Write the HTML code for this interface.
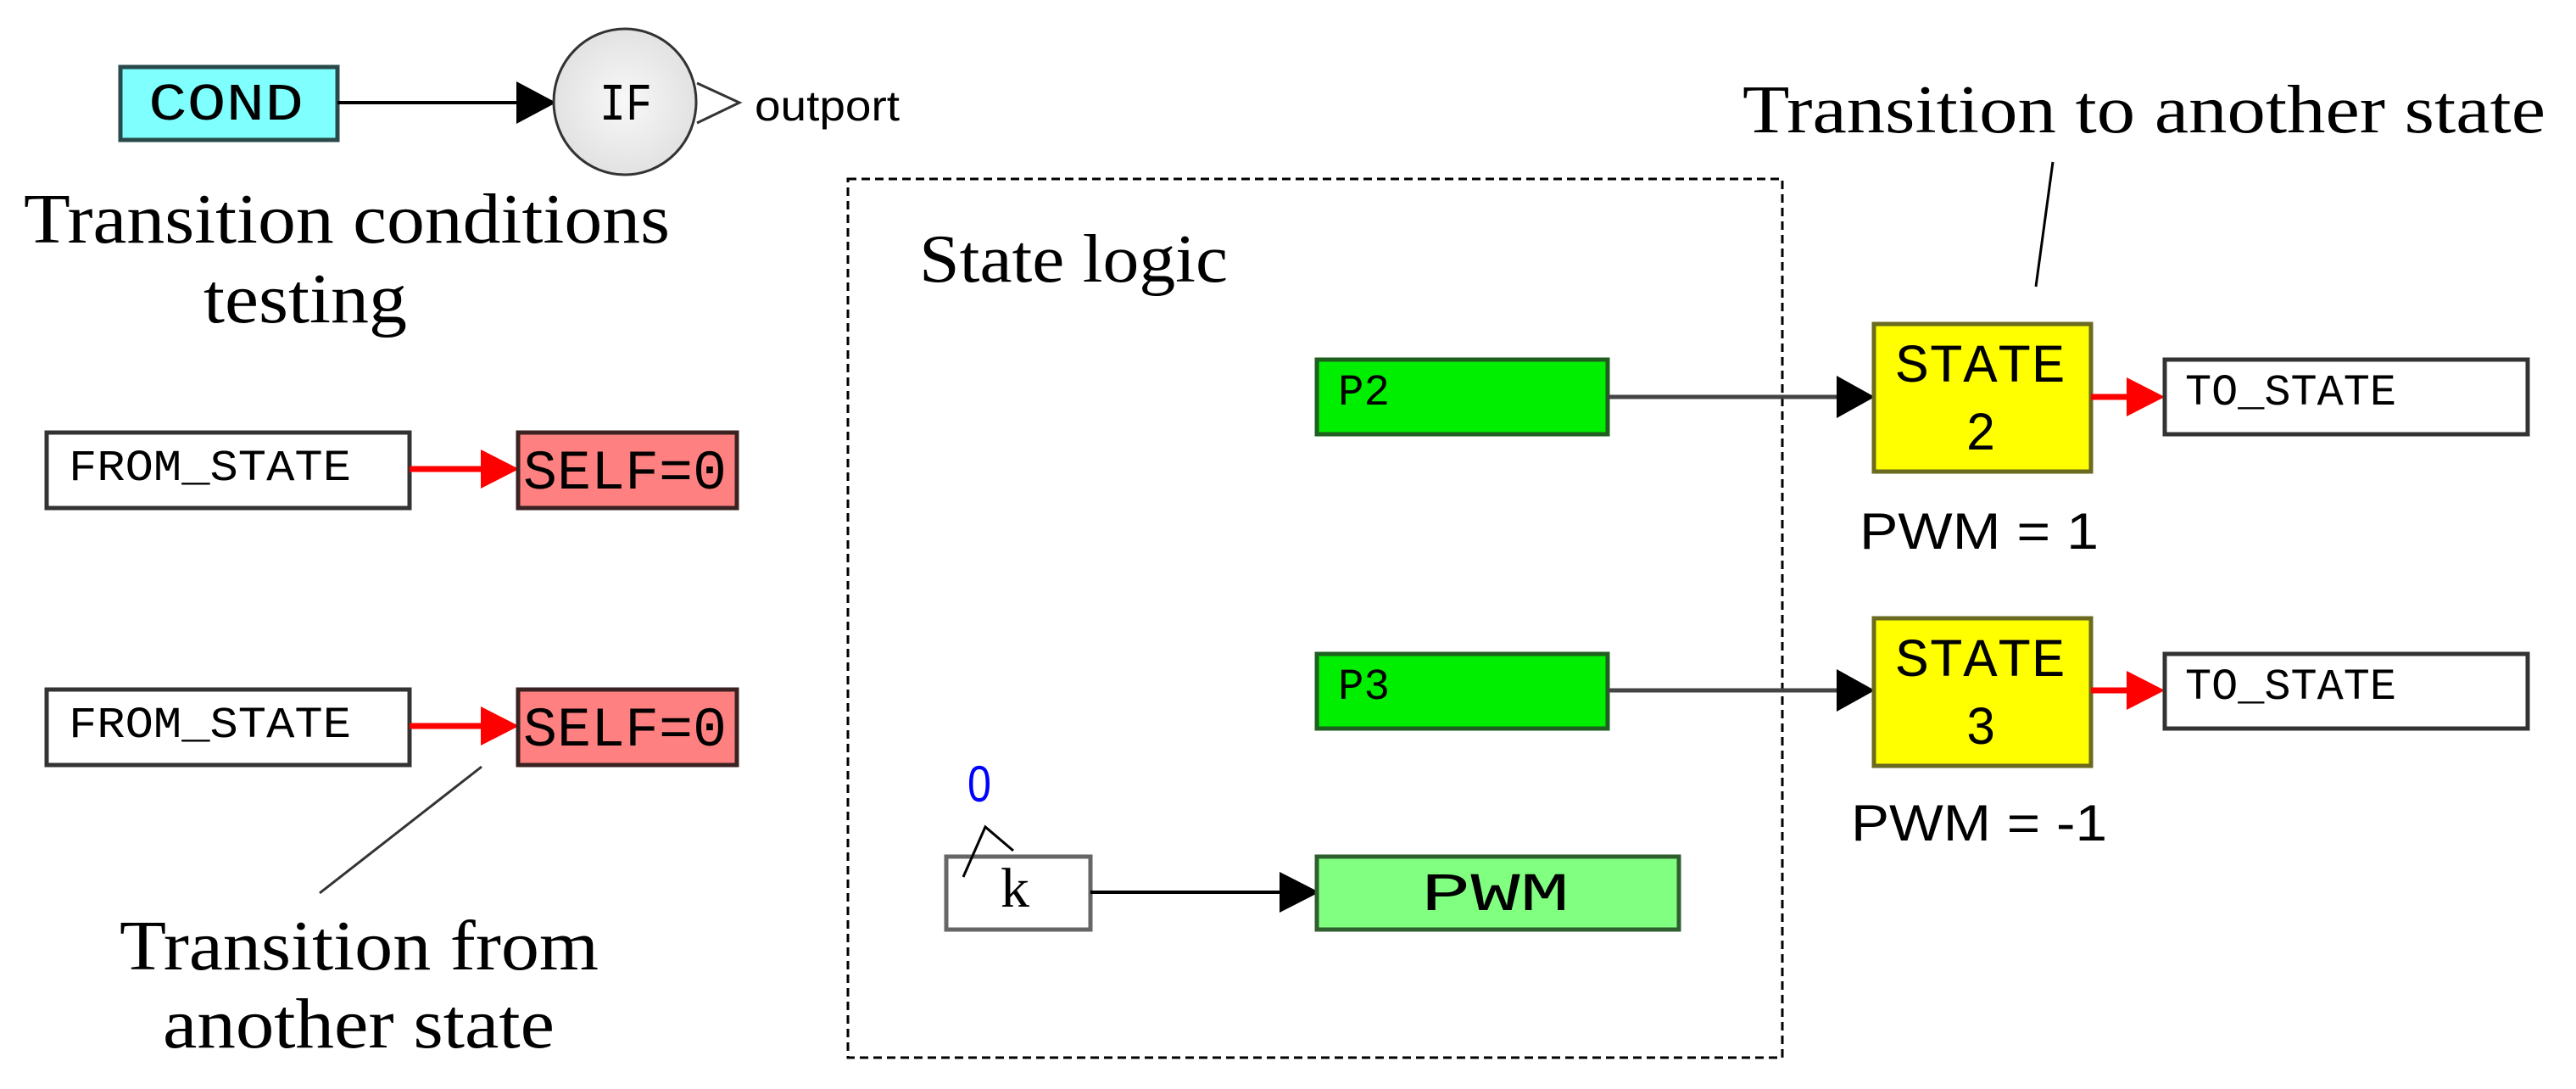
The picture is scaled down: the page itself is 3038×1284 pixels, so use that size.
<!DOCTYPE html>
<html><head><meta charset="utf-8"><style>
html,body{margin:0;padding:0;background:#fff;}
svg{display:block;}
.s{font-family:"Liberation Serif",serif;fill:#000;}
.m{font-family:"Liberation Mono",monospace;fill:#000;}
</style></head><body>
<svg width="3038" height="1284" viewBox="0 0 3038 1284" xmlns="http://www.w3.org/2000/svg">
<defs>
<radialGradient id="g" cx="50%" cy="50%" r="50%"><stop offset="0" stop-color="#f8f8f8"/><stop offset="1" stop-color="#e2e2e2"/></radialGradient>
</defs>
<!-- COND -> IF -->
<rect x="142" y="79" width="256" height="86" fill="#80ffff" stroke="#2a4a4a" stroke-width="5"/>
<text class="m" x="175" y="141" font-size="62" textLength="183" lengthAdjust="spacingAndGlyphs">COND</text>
<line x1="398" y1="121" x2="615" y2="121" stroke="#000" stroke-width="4"/>
<polygon points="609,96 656,121 609,146" fill="#000"/>
<ellipse cx="737" cy="120" rx="84" ry="86" fill="url(#g)" stroke="#333" stroke-width="3"/>
<text class="m" x="707" y="141" font-size="62" textLength="62" lengthAdjust="spacingAndGlyphs">IF</text>
<polyline points="822,98 872,121 822,145" fill="none" stroke="#333" stroke-width="3"/>
<text x="890" y="142" font-family="Liberation Sans,sans-serif" font-size="50" textLength="171" lengthAdjust="spacingAndGlyphs">outport</text>
<text class="s" x="28" y="286" font-size="84" textLength="762" lengthAdjust="spacingAndGlyphs">Transition conditions</text>
<text class="s" x="240" y="380" font-size="84" textLength="240" lengthAdjust="spacingAndGlyphs">testing</text>

<!-- FROM_STATE rows -->
<rect x="55" y="510" width="428" height="89" fill="#fff" stroke="#333" stroke-width="5"/>
<text class="m" x="81" y="566" font-size="52" textLength="333" lengthAdjust="spacingAndGlyphs">FROM_STATE</text>
<line x1="483" y1="553" x2="575" y2="553" stroke="#ff0000" stroke-width="7"/>
<polygon points="567,530 612,553 567,576" fill="#ff0000"/>
<rect x="611" y="510" width="258" height="89" fill="#ff8080" stroke="#3a2222" stroke-width="5"/>
<text class="m" x="617" y="576" font-size="66" textLength="240" lengthAdjust="spacingAndGlyphs">SELF=0</text>

<rect x="55" y="813" width="428" height="89" fill="#fff" stroke="#333" stroke-width="5"/>
<text class="m" x="81" y="869" font-size="52" textLength="333" lengthAdjust="spacingAndGlyphs">FROM_STATE</text>
<line x1="483" y1="856" x2="575" y2="856" stroke="#ff0000" stroke-width="7"/>
<polygon points="567,833 612,856 567,879" fill="#ff0000"/>
<rect x="611" y="813" width="258" height="89" fill="#ff8080" stroke="#3a2222" stroke-width="5"/>
<text class="m" x="617" y="879" font-size="66" textLength="240" lengthAdjust="spacingAndGlyphs">SELF=0</text>
<line x1="568" y1="904" x2="377" y2="1053" stroke="#333" stroke-width="3"/>
<text class="s" x="141" y="1143" font-size="84" textLength="565" lengthAdjust="spacingAndGlyphs">Transition from</text>
<text class="s" x="192" y="1235" font-size="84" textLength="462" lengthAdjust="spacingAndGlyphs">another state</text>

<!-- State logic box -->
<rect x="1000" y="211" width=
"1102" height="1036" fill="none" stroke="#000" stroke-width="3" stroke-dasharray="10,6"/>
<text class="s" x="1084" y="332" font-size="80" textLength="364" lengthAdjust="spacingAndGlyphs">State logic</text>

<rect x="1553" y="424" width="343" height="88" fill="#00ee00" stroke="#1f5f1f" stroke-width="5"/>
<text class="m" x="1578" y="477" font-size="52" textLength="61" lengthAdjust="spacingAndGlyphs">P2</text>
<line x1="1896" y1="468" x2="2170" y2="468" stroke="#444" stroke-width="5"/>
<polygon points="2166,443 2211,468 2166,493" fill="#000"/>

<rect x="1553" y="771" width="343" height="88" fill="#00ee00" stroke="#1f5f1f" stroke-width="5"/>
<text class="m" x="1578" y="824" font-size="52" textLength="61" lengthAdjust="spacingAndGlyphs">P3</text>
<line x1="1896" y1="814" x2="2170" y2="814" stroke="#444" stroke-width="5"/>
<polygon points="2166,789 2211,814 2166,839" fill="#000"/>

<!-- k -> PWM -->
<text x="1141" y="945" font-family="Liberation Sans,sans-serif" font-size="60" fill="#0000ff" textLength="28" lengthAdjust="spacingAndGlyphs">0</text>
<rect x="1116" y="1010" width="170" height="86" fill="#fff" stroke="#666" stroke-width="5"/>
<polyline points="1136,1034 1162,975 1195,1003" fill="none" stroke="#000" stroke-width="3"/>
<text class="s" x="1180" y="1069" font-size="66" textLength="34" lengthAdjust="spacingAndGlyphs">k</text>
<line x1="1286" y1="1052" x2="1512" y2="1052" stroke="#000" stroke-width="4"/>
<polygon points="1509,1028 1556,1052 1509,1076" fill="#000"/>
<rect x="1553" y="1010" width="427" height="86" fill="#80ff80" stroke="#2f5f2f" stroke-width="5"/>
<text class="m" x="1676" y="1073" font-size="64" textLength="175" lengthAdjust="spacingAndGlyphs">PWM</text>

<!-- States -->
<rect x="2210" y="382" width="256" height="174" fill="#ffff00" stroke="#6a6a20" stroke-width="5"/>
<text class="m" x="2235" y="450" font-size="64" textLength="201" lengthAdjust="spacingAndGlyphs">STATE</text>
<text class="m" x="2318" y="530" font-size="64" textLength="36" lengthAdjust="spacingAndGlyphs">2</text>
<line x1="2466" y1="468" x2="2515" y2="468" stroke="#ff0000" stroke-width="7"/>
<polygon points="2508,445 2553,468 2508,491" fill="#ff0000"/>
<rect x="2553" y="424" width="428" height="88" fill="#fff" stroke="#333" stroke-width="5"/>
<text class="m" x="2577" y="477" font-size="52" textLength="249" lengthAdjust="spacingAndGlyphs">TO_STATE</text>
<text x="2193" y="647" font-family="Liberation Sans,sans-serif" font-size="60" textLength="282" lengthAdjust="spacingAndGlyphs">PWM = 1</text>

<rect x="2210" y="729" width="256" height="174" fill="#ffff00" stroke="#6a6a20" stroke-width="5"/>
<text class="m" x="2235" y="797" font-size="64" textLength="201" lengthAdjust="spacingAndGlyphs">STATE</text>
<text class="m" x="2318" y="877" font-size="64" textLength="36" lengthAdjust="spacingAndGlyphs">3</text>
<line x1="2466" y1="814" x2="2515" y2="814" stroke="#ff0000" stroke-width="7"/>
<polygon points="2508,791 2553,814 2508,837" fill="#ff0000"/>
<rect x="2553" y="771" width="428" height="88" fill="#fff" stroke="#333" stroke-width="5"/>
<text class="m" x="2577" y="824" font-size="52" textLength="249" lengthAdjust="spacingAndGlyphs">TO_STATE</text>
<text x="2183" y="991" font-family="Liberation Sans,sans-serif" font-size="60" textLength="302" lengthAdjust="spacingAndGlyphs">PWM = -1</text>

<text class="s" x="2055" y="156" font-size="80" textLength="947" lengthAdjust="spacingAndGlyphs">Transition to another state</text>
<line x1="2421" y1="191" x2="2401" y2="338" stroke="#000" stroke-width="3"/>
</svg>
</body></html>
